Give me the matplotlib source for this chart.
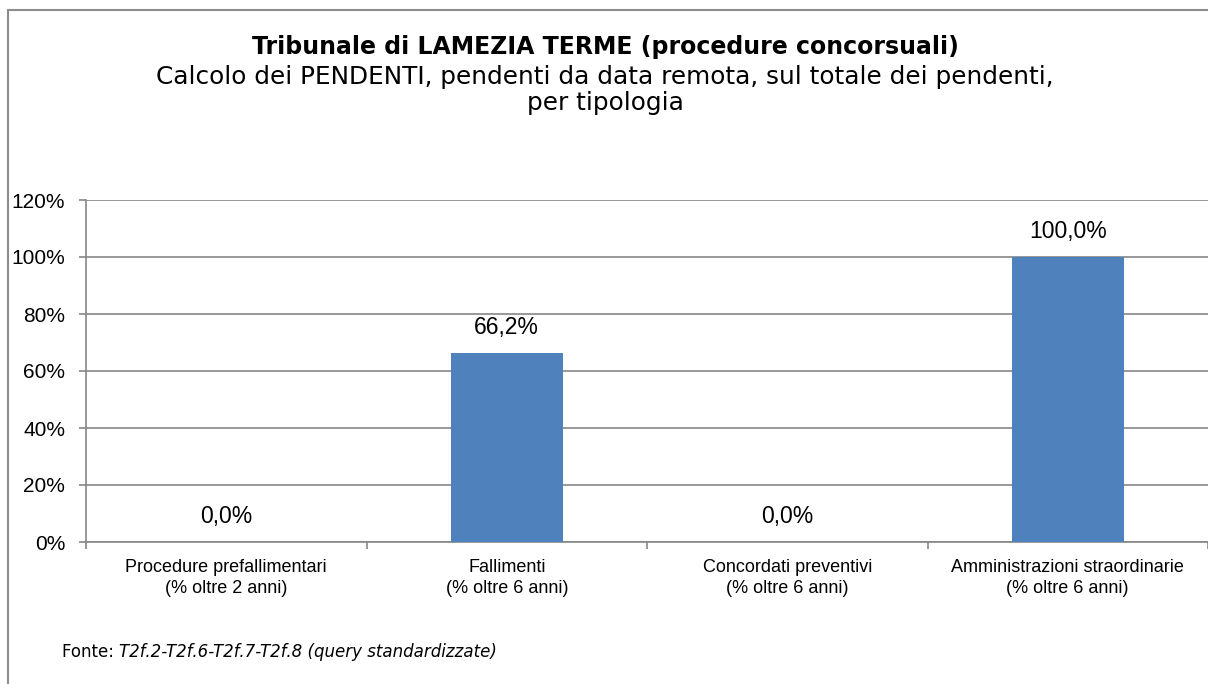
import matplotlib.pyplot as plt
from matplotlib.patches import Rectangle
from matplotlib.ticker import FixedLocator, PercentFormatter

categories = ['Procedure prefallimentari\n(% oltre 2 anni)',
              'Fallimenti\n(% oltre 6 anni)',
              'Concordati preventivi\n(% oltre 6 anni)',
              'Amministrazioni straordinarie\n(% oltre 6 anni)']
values = [0.0, 66.2, 0.0, 100.0]
value_labels = ['0,0%', '66,2%', '0,0%', '100,0%']
y_ticks = [0, 20, 40, 60, 80, 100, 120]

fig = plt.figure(figsize=(12.08, 6.84), dpi=100)
W, H = 1208, 684

# outer chart frame
fig.patches.append(Rectangle((8 / W, -0.05), 1.1, 1 - 10 / H + 0.05,
                             transform=fig.transFigure, fill=False,
                             edgecolor='#8c8c8c', linewidth=1.5))

ax = fig.add_axes([86 / W, 1 - 542 / H, 1 - 86 / W, 342 / H])
x = range(len(categories))
ax.bar(x, values, width=0.4, color='#4F81BD', zorder=3)
ax.set_xlim(-0.5, len(categories) - 0.5)
ax.set_ylim(0, 120)

ax.yaxis.set_major_locator(FixedLocator(y_ticks))
ax.yaxis.set_major_formatter(PercentFormatter(decimals=0))
ax.grid(axis='y', color='#868686', linewidth=1.2, zorder=0)
ax.set_axisbelow(True)

ax.set_xticks(list(x))
ax.set_xticklabels(categories, fontfamily='Liberation Sans', fontsize=13,
                   linespacing=1.35)
ax.tick_params(axis='x', which='major', length=0, pad=12)
ax.xaxis.set_minor_locator(FixedLocator([i - 0.5 for i in range(len(categories) + 1)]))
ax.tick_params(axis='x', which='minor', length=5, color='#868686', width=1.2)
ax.tick_params(axis='y', length=5, color='#868686', width=1.2, pad=10,
               labelsize=15)
for lab in ax.get_yticklabels():
    lab.set_fontfamily('Liberation Sans')

for side in ['top', 'right']:
    ax.spines[side].set_visible(False)
for side in ['left', 'bottom']:
    ax.spines[side].set_color('#868686')
    ax.spines[side].set_linewidth(1.2)

for xi, v, lab in zip(x, values, value_labels):
    ax.annotate(lab, (xi, v), xytext=(0, 14), textcoords='offset pixels',
                ha='center', va='bottom', fontsize=16.5,
                fontfamily='Liberation Sans')

fig.text(605 / W, 1 - 47 / H, 'Tribunale di LAMEZIA TERME (procedure concorsuali)',
         ha='center', va='center', fontsize=17, fontweight='bold',
         fontfamily='DejaVu Sans')
fig.text(605 / W, 1 - 90 / H,
         'Calcolo dei PENDENTI, pendenti da data remota, sul totale dei pendenti,\nper tipologia',
         ha='center', va='center', fontsize=17.8, fontfamily='DejaVu Sans',
         linespacing=1.1)

t = fig.text(62 / W, 1 - 652 / H, 'Fonte: ', ha='left', va='center',
             fontsize=12, fontfamily='DejaVu Sans')
fig.canvas.draw()
bb = t.get_window_extent()
fig.text(bb.x1 / W, 1 - 652 / H, 'T2f.2-T2f.6-T2f.7-T2f.8 (query standardizzate)',
         ha='left', va='center', fontsize=12, fontstyle='italic',
         fontfamily='DejaVu Sans')

fig.savefig('out.png', dpi=100)
